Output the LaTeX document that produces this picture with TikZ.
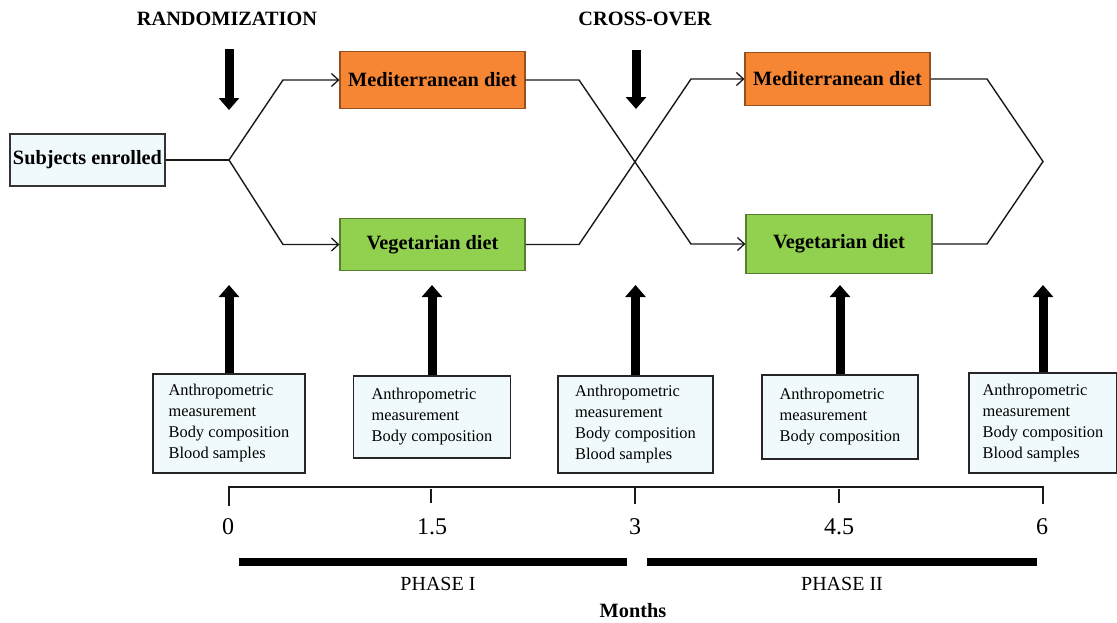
\documentclass[tikz,border=0pt]{standalone}
\usepackage{fontspec}
\setmainfont{Liberation Serif}
\usetikzlibrary{arrows.meta}
\definecolor{cyanfill}{RGB}{240,250,252}
\definecolor{medfill}{RGB}{247,134,52}
\definecolor{vegfill}{RGB}{146,208,80}
\tikzset{
  bold/.style={font=\fontsize{20.3}{23}\selectfont\bfseries},
  dietbox/.style={draw=#1!60!black, fill=#1, line width=1.2pt, bold, inner sep=0pt},
  subjbox/.style={draw=black!80, fill=cyanfill, line width=1.2pt, bold, inner sep=0pt},
  measbox/.style={draw=black!85, fill=cyanfill, line width=1.3pt, align=left, inner sep=0pt,
    font=\fontsize{16.4}{21}\selectfont},
  thinline/.style={line width=1.4pt, black!90},
  flowarrow/.style={thinline, -{Straight Barb[length=7pt,width=13pt,line width=1.3pt]}},
  bigarrow/.style={line width=9pt, -{Triangle[width=20pt,length=12pt]}},
  ticklabel/.style={font=\fontsize{24}{26}\selectfont},
  phaselabel/.style={font=\fontsize{20}{22}\selectfont},
}
\begin{document}
\begin{tikzpicture}[x=1pt,y=-1pt]
\useasboundingbox (0,0) rectangle (1117,622);

% headings
\node[bold] (rand) at (227,19) {RANDOMIZATION};
\node[bold] (cross) at (645,19) {CROSS-OVER};

% boxes
\node[subjbox, minimum width=155, minimum height=52] (subj) at (87.5,160) {Subjects enrolled};
\node[dietbox=medfill, minimum width=185, minimum height=57] (med1) at (432.5,80) {Mediterranean diet};
\node[dietbox=vegfill, minimum width=185, minimum height=52] (veg1) at (432.5,244.5) {Vegetarian diet};
\node[dietbox=medfill, minimum width=185, minimum height=53] (med2) at (837.5,79) {Mediterranean diet};
\node[dietbox=vegfill, minimum width=186, minimum height=59] (veg2) at (839,244) {Vegetarian diet};

% junction coordinates
\coordinate (b0) at (229,160);
\coordinate (b1) at (283,80);
\coordinate (b2) at (283,244.5);
\coordinate (c1) at (579,80);
\coordinate (c2) at (579,244.5);
\coordinate (c3) at (691,244);
\coordinate (c4) at (691,79);
\coordinate (e1) at (987,79);
\coordinate (e2) at (987,244);
\coordinate (e0) at (1043,161.5);

\draw[thinline] (subj.east) -- (b0);
\draw[flowarrow] (b0) -- (b1) -- (med1.west);
\draw[flowarrow] (b0) -- (b2) -- (veg1.west);
\draw[flowarrow] (med1.east) -- (c1) -- (c3) -- (veg2.west);
\draw[flowarrow] (veg1.east) -- (c2) -- (c4) -- (med2.west);
\draw[thinline] (med2.east) -- (e1) -- (e0) -- (e2) -- (veg2.east);

% down arrows
\coordinate (d1s) at (229,49);
\coordinate (d1e) at (229,110);
\coordinate (d2s) at (636,50);
\coordinate (d2e) at (636,109);
\draw[bigarrow] (d1s) -- (d1e);
\draw[bigarrow] (d2s) -- (d2e);

% measurement boxes
\node[measbox, minimum width=152, minimum height=99] (m1) at (229,423.5)
  {Anthropometric\\measurement\\Body composition\\Blood samples};
\node[measbox, minimum width=157, minimum height=82] (m2) at (432,417)
  {Anthropometric\\measurement\\Body composition};
\node[measbox, minimum width=155, minimum height=97] (m3) at (635.5,424.5)
  {Anthropometric\\measurement\\Body composition\\Blood samples};
\node[measbox, minimum width=156, minimum height=84] (m4) at (840,417)
  {Anthropometric\\measurement\\Body composition};
\node[measbox, minimum width=148, minimum height=100] (m5) at (1043,423)
  {Anthropometric\\measurement\\Body composition\\Blood samples};

% up arrows
\coordinate (top) at (0,285);
\foreach \m in {m1,m2,m3,m4,m5}{
  \draw[bigarrow] (\m.north) -- (\m.north |- top);
}

% timeline
\coordinate (t0) at (229,487);
\coordinate (t6) at (1043,487);
\draw[thinline, line cap=rect] (t0) -- (t6);
\coordinate (k0) at (229,506);
\coordinate (k1a) at (431,489);
\coordinate (k1b) at (431,503);
\coordinate (k3a) at (635,487);
\coordinate (k3b) at (635,504);
\coordinate (k4a) at (839,489);
\coordinate (k4b) at (839,503);
\coordinate (k6) at (1043,504);
\draw[thinline] (t0) -- (k0);
\draw[thinline] (k1a) -- (k1b);
\draw[thinline] (k3a) -- (k3b);
\draw[thinline] (k4a) -- (k4b);
\draw[thinline] (t6) -- (k6);

\node[ticklabel] (l0) at (228,527) {0};
\node[ticklabel] (l1) at (432,527) {1.5};
\node[ticklabel] (l3) at (635,527) {3};
\node[ticklabel] (l4) at (839,527) {4.5};
\node[ticklabel] (l6) at (1042,527) {6};

% phase bars
\coordinate (p1a) at (238.5,562);
\coordinate (p1b) at (626.5,562);
\coordinate (p2a) at (646.5,562);
\coordinate (p2b) at (1037,562);
\draw[line width=8pt] (p1a) -- (p1b);
\draw[line width=8pt] (p2a) -- (p2b);
\node[phaselabel] (ph1) at (438,584) {PHASE I};
\node[phaselabel] (ph2) at (842,584) {PHASE II};
\node[bold] (months) at (633,611) {Months};
\end{tikzpicture}
\end{document}
